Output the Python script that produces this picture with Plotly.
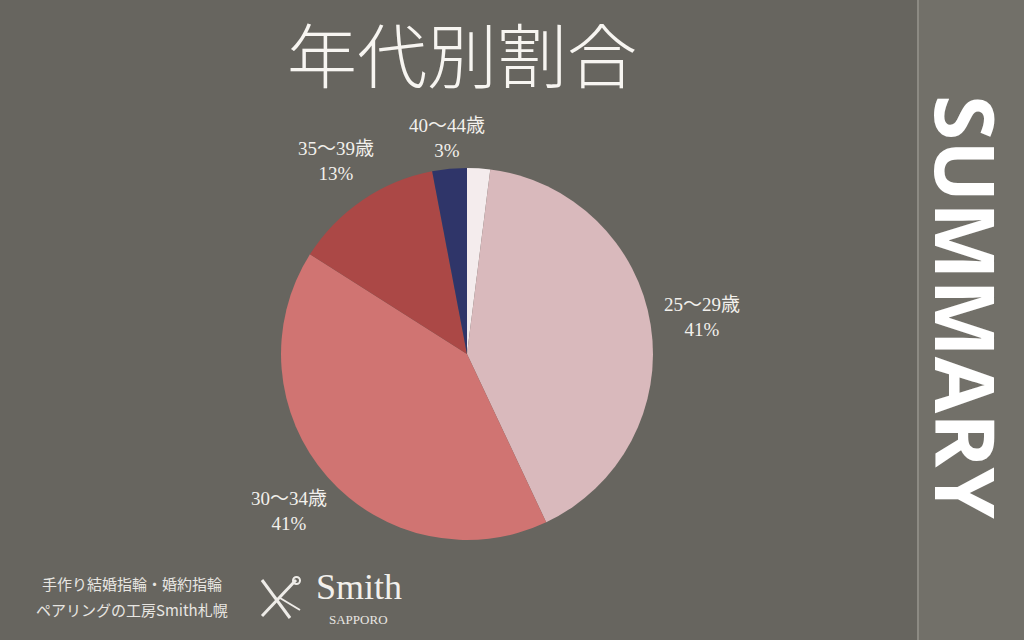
import math
import plotly.graph_objects as go

# ---- data ----
age_groups = ["20〜24歳", "25〜29歳", "30〜34歳", "35〜39歳", "40〜44歳"]
shares = [2, 41, 41, 13, 3]
show_label = [False, True, True, True, True]
slice_colors = ["#f4eced", "#d9b9bc", "#d07472", "#ab4846", "#2f3569"]

title_text = "年代別割合"
side_text = "SUMMARY"
footer_lines = ["手作り結婚指輪・婚約指輪", "ペアリングの工房Smith札幌"]
brand_name = "Smith"
brand_city = "SAPPORO"

serif = "Liberation Serif, DejaVu Serif, Noto Sans CJK JP, serif"
jp = "Noto Sans CJK JP, sans-serif"

W, H = 1024, 640
dom_x = [0.2744, 0.6377]
dom_y = [0.1563, 0.7375]

fig = go.Figure()
fig.add_trace(go.Pie(
    labels=age_groups,
    values=shares,
    textinfo="none",
    sort=False,
    direction="clockwise",
    rotation=0,
    marker=dict(colors=slice_colors, line=dict(width=0)),
    hoverinfo="label+percent",
    showlegend=False,
    domain=dict(x=dom_x, y=dom_y),
))

# label placement: outside each slice, along its mid-angle
cx = (dom_x[0] + dom_x[1]) / 2 * W
cy = (1 - (dom_y[0] + dom_y[1]) / 2) * H
R = min((dom_x[1] - dom_x[0]) * W, (dom_y[1] - dom_y[0]) * H) / 2
half_w, half_h, offset = 42, 20, 7

annotations = []
total = sum(shares)
cum = 0
for a, s, show in zip(age_groups, shares, show_label):
    mid = (cum + s / 2) / total * 2 * math.pi
    cum += s
    if not show:
        continue
    ux, uy = math.sin(mid), -math.cos(mid)
    d = R + offset + half_w * abs(ux) + half_h * abs(uy)
    px, py = cx + d * ux, cy + d * uy
    annotations.append(dict(
        text=f"{a}<br>{s}%", x=px / W, y=1 - py / H, xref="paper", yref="paper",
        showarrow=False, align="center", xanchor="center", yanchor="middle",
        font=dict(family=serif, size=19, color="#f2f0ec"),
    ))

shapes = [
    dict(type="rect", xref="paper", yref="paper", x0=919/1024, x1=1.0, y0=0, y1=1,
         fillcolor="#727069", line=dict(width=0), layer="below"),
    dict(type="line", xref="paper", yref="paper", x0=918/1024, x1=918/1024, y0=0, y1=1,
         line=dict(color="#8c8a83", width=2)),
    # simple crossed-tools emblem
    dict(type="line", xref="paper", yref="paper", x0=262/1024, y0=1-580/640, x1=290/1024, y1=1-618/640,
         line=dict(color="#eeece8", width=3)),
    dict(type="line", xref="paper", yref="paper", x0=296/1024, y0=1-580/640, x1=262/1024, y1=1-616/640,
         line=dict(color="#eeece8", width=3)),
    dict(type="line", xref="paper", yref="paper", x0=280/1024, y0=1-598/640, x1=300/1024, y1=1-610/640,
         line=dict(color="#eeece8", width=2)),
    dict(type="circle", xref="paper", yref="paper", x0=293/1024, x1=300/1024, y0=1-584/640, y1=1-577/640,
         line=dict(color="#eeece8", width=2)),
]

annotations += [
    dict(text=title_text, x=462/1024, y=1-53/640, xref="paper", yref="paper",
         showarrow=False, font=dict(family=jp, size=70, color="#f7f5f1", weight=300),
         xanchor="center", yanchor="middle"),
    dict(text=side_text, x=967/1024, y=1-307/640, xref="paper", yref="paper",
         showarrow=False, textangle=90,
         font=dict(family="Open Sans, Noto Sans, sans-serif", size=82, color="#ffffff", weight="bold"),
         xanchor="center", yanchor="middle"),
    dict(text=footer_lines[0], x=132/1024, y=1-583/640, xref="paper", yref="paper",
         showarrow=False, font=dict(family=jp, size=15, color="#e8e6e2"),
         xanchor="center", yanchor="middle"),
    dict(text=footer_lines[1], x=132/1024, y=1-609/640, xref="paper", yref="paper",
         showarrow=False, font=dict(family=jp, size=15, color="#e8e6e2"),
         xanchor="center", yanchor="middle"),
    dict(text=brand_name, x=359/1024, y=1-587/640, xref="paper", yref="paper",
         showarrow=False, font=dict(family=serif, size=36, color="#f2f0ec"),
         xanchor="center", yanchor="middle"),
    dict(text=brand_city, x=358/1024, y=1-619/640, xref="paper", yref="paper",
         showarrow=False, font=dict(family=serif, size=13, color="#e8e6e2"),
         xanchor="center", yanchor="middle"),
]

fig.update_layout(
    width=W, height=H,
    margin=dict(l=0, r=0, t=0, b=0),
    paper_bgcolor="#67655f",
    plot_bgcolor="#67655f",
    shapes=shapes,
    annotations=annotations,
)

fig.write_html("out.html", config={"displayModeBar": False},
               post_script="document.body.style.margin='0';document.body.style.overflow='hidden';")
